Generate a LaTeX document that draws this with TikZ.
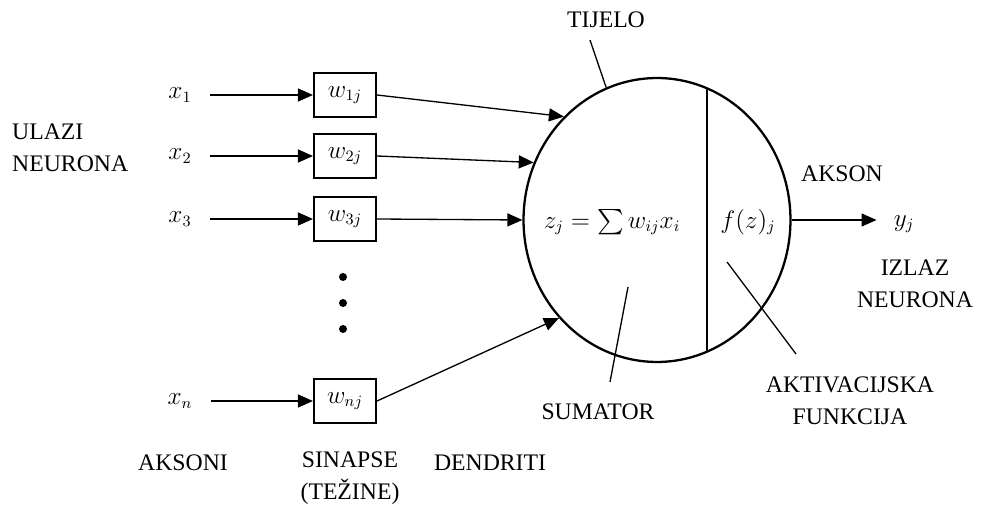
\documentclass[tikz,border=0pt]{standalone}
\usepackage{amsmath}
\usepackage{fontspec}
\setmainfont{Liberation Serif}
\usepackage{tikz}
\usetikzlibrary{arrows.meta,shapes.geometric}

\begin{document}
\begin{tikzpicture}[x=0.02cm,y=-0.02cm,
  font=\fontsize{13.5}{18.5}\selectfont,
  sig/.style={-{Triangle[length=3mm,width=2.6mm]},line width=0.75pt},
  synbox/.style={draw,line width=1.2pt,minimum width=1.24cm,minimum height=0.88cm,inner sep=0pt},
  pointer/.style={line width=0.75pt}]
  \useasboundingbox (0,0) rectangle (984,526);

  % Body of the neuron
  \node[draw,ellipse,line width=1.3pt,minimum width=5.34cm,minimum height=5.68cm] (soma) at (657,220) {};
  \draw[line width=1.3pt] (707,89) -- (707,351);
  \node (sum) at (612,222) {$z_j = \sum w_{ij}x_i$};
  \node (act) at (748,222) {$f(z)_j$};

  % Inputs and synapses
  \foreach \i/\y/\ang in {1/95/132, 2/156/155, 3/219/180, n/401/225} {
    \node (x\i) at (180,\y) {$x_{\i}$};
    \node[synbox] (w\i) at (345,\y) {$w_{\i j}$};
    \draw[sig,shorten <=2.4mm] (w\i.west -| x\i.east) -- (w\i.west);
    \draw[sig] (w\i.east) -- (soma.\ang);
  }
  \foreach \y in {277,303,329}
    \fill (343,\y) circle (0.08cm);

  % Output
  \node (yj) at (904,224) {$y_j$};
  \draw[sig,shorten >=2.2mm] (soma.east) -- (soma.east -| yj.west);

  % Pointers
  \coordinate (tijtip) at (590,40);
  \draw[pointer] (tijtip) -- (soma.111);
  \coordinate (sumin) at (628,287);
  \coordinate (sumout) at (610,382);
  \draw[pointer] (sumin) -- (sumout);
  \coordinate (actin) at (727,262);
  \coordinate (actout) at (796,354);
  \draw[pointer] (actin) -- (actout);

  % Labels
  \node[align=left,anchor=west] (ulazi) at (6,148) {ULAZI\\NEURONA};
  \node (tijelo) at (606,20) {TIJELO};
  \node (akson) at (842,174) {AKSON};
  \node[align=center] (izlaz) at (915,284) {IZLAZ\\NEURONA};
  \node[align=center] (aktiv) at (850,401) {AKTIVACIJSKA\\FUNKCIJA};
  \node (sumator) at (598,412) {SUMATOR};
  \node (aksoni) at (183,463) {AKSONI};
  \node[align=center] (sinapse) at (350,478) {SINAPSE\\(TEŽINE)};
  \node (dendriti) at (490,463) {DENDRITI};

\end{tikzpicture}
\end{document}
